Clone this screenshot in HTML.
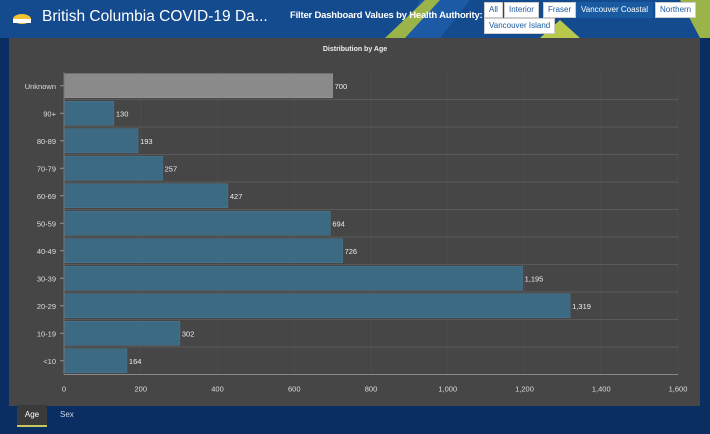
<!DOCTYPE html>
<html><head><meta charset="utf-8"><style>
body{margin:0;width:710px;height:434px;overflow:hidden;background:#0b2e62;font-family:"Liberation Sans",sans-serif}
#hdr{position:absolute;left:0;top:0;width:710px;height:38px;background:#144a8e;overflow:hidden}
.tab{position:absolute;top:2px;height:14px;background:#fff;color:#1a5aa0;font-size:8px;line-height:14px;padding:0 4px;border:1px solid #ccc}
#panel{position:absolute;left:9px;top:38px;width:691px;height:368px;background:#464646}
</style></head><body>
<div id="hdr">
<svg width="710" height="38" style="position:absolute;left:0;top:0">
<polygon points="400,38 420,0 470,0 440,38" fill="#1d5aa6"/>
<polygon points="385,38 405,38 440,0 425,0" fill="#9ab44a"/>
<polygon points="540,38 560,20 580,38" fill="#b7c84a"/>
<polygon points="680,0 710,0 710,38 700,38" fill="#9ab44a"/>
<ellipse cx="22" cy="19" rx="9" ry="5" fill="#f1c232"/>
<rect x="13" y="19" width="18" height="4" fill="#fff"/>
</svg>
<div style="position:absolute;left:42px;top:8px;color:#fff;font-size:15.5px">British Columbia COVID-19 Da...</div>
<div style="position:absolute;left:290px;top:10px;color:#fff;font-size:9.5px;font-weight:bold;letter-spacing:-0.2px">Filter Dashboard Values by Health Authority:</div>
<div class="tab" style="left:484px">All</div>
<div class="tab" style="left:504px">Interior</div>
<div class="tab" style="left:543px">Fraser</div>
<div class="tab" style="left:576px;background:#1a5aa0;color:#fff;border-color:#1a5aa0">Vancouver Coastal</div>
<div class="tab" style="left:655px">Northern</div>
<div class="tab" style="left:484px;top:18px">Vancouver Island</div>
</div>
<div id="panel"></div>
<svg id="chart" width="710" height="434" style="position:absolute;left:0;top:0"></svg>
<div style="position:absolute;left:17px;top:405px;width:30px;height:20px;background:#3a3a3a;border-bottom:2px solid #c8c860;color:#fff;font-size:8px;text-align:center;line-height:20px">Age</div>
<div style="position:absolute;left:60px;top:405px;color:#cfd8e8;font-size:8px;line-height:20px">Sex</div>
<script>
const categories=["Unknown","90+","80-89","70-79","60-69","50-59","40-49","30-39","20-29","10-19","<10"];
const values=[700,130,193,257,427,694,726,1195,1319,302,164];
const labels=["700","130","193","257","427","694","726","1,195","1,319","302","164"];
const ticks=[0,200,400,600,800,1000,1200,1400,1600];
const tickLabels=["0","200","400","600","800","1,000","1,200","1,400","1,600"];
const NS="http://www.w3.org/2000/svg";
const svg=document.getElementById('chart');
const x0=64,x1=678,xMax=1600,yTop=72,rowH=27.5;
const xs=v=>x0+(x1-x0)*v/xMax;
const yc=i=>yTop+rowH*i+rowH/2;
function mk(t,a,txt){const e=document.createElementNS(NS,t);for(const k in a)e.setAttribute(k,a[k]);if(txt!=null)e.textContent=txt;svg.appendChild(e);return e;}
const yBottom=yTop+rowH*categories.length;
const tt=mk('text',{x:355,y:51,fill:'#eee','font-size':7,'font-weight':'bold','text-anchor':'middle'},'Distribution by Age');


ticks.forEach((t,i)=>{
 const g=mk('line',{x1:xs(t),x2:xs(t),y1:yTop,y2:yBottom,stroke:'#4c4c4c','stroke-width':1});
 
 
 const l=mk('text',{x:xs(t),y:yBottom+17,fill:'#ddd','font-size':7.5,'text-anchor':'middle'},tickLabels[i]);
 
 
});
categories.forEach((c,i)=>{
 const gl=mk('line',{x1:x0,x2:x1,y1:yTop+rowH*(i+1),y2:yTop+rowH*(i+1),stroke:'#5a5a5a','stroke-width':1});
 
 
 const b=mk('rect',{x:x0,y:yc(i)-12,width:xs(values[i])-x0,height:24,fill:i==0?'#8a8a8a':'#3d6a83',stroke:i==0?'#9a9a9a':'#4a7a94','stroke-width':0.5});
 
 
 const v=mk('text',{x:xs(values[i])+2,y:yc(i)+3,fill:'#eee','font-size':7.5},labels[i]);
 
 
 const l=mk('text',{x:x0-8,y:yc(i)+3,fill:'#ddd','font-size':7.5,'text-anchor':'end'},c);
 
 
 const tk=mk('line',{x1:x0-4,x2:x0,y1:yc(i),y2:yc(i),stroke:'#999'});
 
 
});
const ax=mk('line',{x1:x0,x2:x1,y1:yBottom,y2:yBottom,stroke:'#888'});


const ay=mk('line',{x1:x0,x2:x0,y1:yTop,y2:yBottom,stroke:'#777'});


</script>
</body></html>
